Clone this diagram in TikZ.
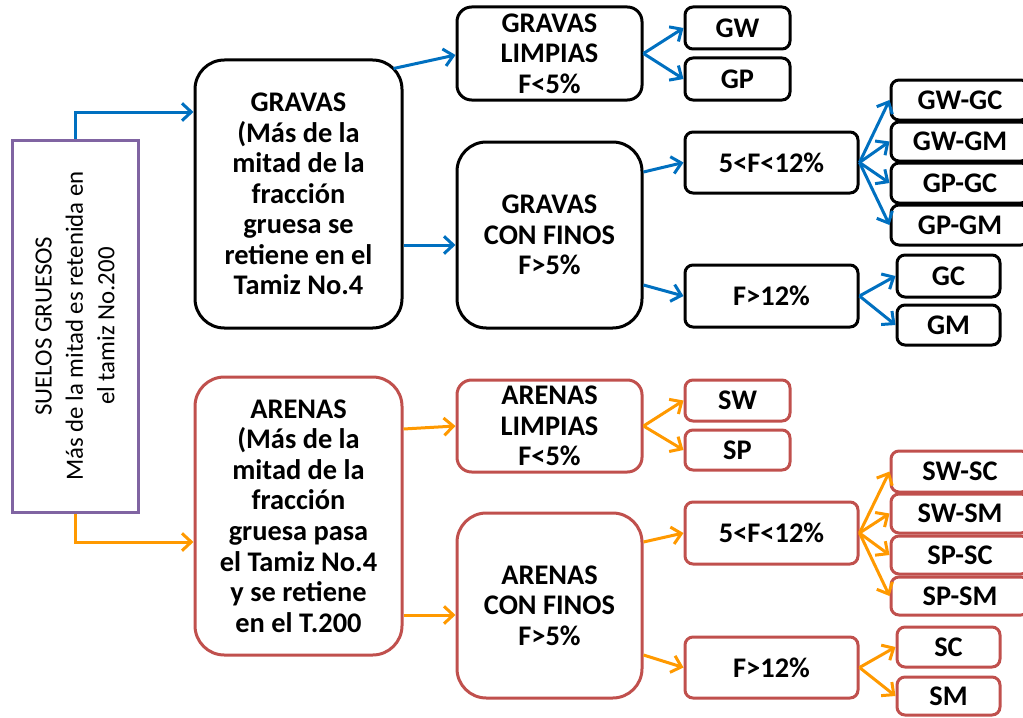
\documentclass[tikz,border=0pt]{standalone}
\usepackage{fontspec}
\setmainfont{Carlito}
\usetikzlibrary{arrows.meta}
\definecolor{cblue}{RGB}{0,112,192}
\definecolor{corange}{RGB}{255,153,0}
\definecolor{cred}{RGB}{192,80,77}
\definecolor{cpurple}{RGB}{128,100,162}
\begin{document}
\begin{tikzpicture}[x=0.75pt,y=-0.75pt,
  base/.style={draw, line width=2.25pt, inner sep=0pt, align=center,
    font=\fontsize{21.3}{22.9}\selectfont\bfseries},
  span/.style args={#1/#2/#3/#4}{minimum width={(#3-#1)*0.75pt}, minimum height={(#4-#2)*0.75pt},
    at={({(#1+#3)/2},{(#2+#4)/2})}},
  gbox/.style={base, draw=black},
  rbox/.style={base, draw=cred},
  bigr/.style={rounded corners=22pt},
  midr/.style={rounded corners=11pt},
  smr/.style={rounded corners=6pt},
  barrow/.style={draw=cblue, line width=2.25pt, -{Straight Barb[length=7pt,width=13pt]}},
  oarrow/.style={draw=corange, line width=2.25pt, -{Straight Barb[length=7pt,width=13pt]}}
]
\useasboundingbox (0,0) rectangle (1023,717);
\clip (0,0) rectangle (1023,717);

% left box
\node[draw=cpurple, line width=2.25pt, inner sep=0pt, span=12/140/138/512] (S) {};
\node[rotate=90, align=center, font=\fontsize{18.6}{23.5}\selectfont] (St) at (S.center)
  {SUELOS GRUESOS\\Más de la mitad es retenida en\\el tamiz No.200};

% gravas
\node[gbox, bigr, span=195/60/402/328] (G) {GRAVAS\\(Más de la\\mitad de la\\fracción\\gruesa se\\retiene en el\\Tamiz No.4};
\node[gbox, midr, span=457/7/642/100] (GL) {GRAVAS\\LIMPIAS\\F<5\%};
\node[gbox, bigr, span=457/142/642/328] (GCF) {GRAVAS\\CON FINOS\\F>5\%};
\node[gbox, smr, span=685/7/790/49] (GW) {GW};
\node[gbox, smr, span=685/58/790/100] (GP) {GP};
\node[gbox, smr, span=685/132/858/193] (G5) {5<F<12\%};
\node[gbox, smr, span=685/265/858/327] (G12) {F>12\%};
\node[gbox, smr, span=891/80/1029/120] (GWGC) {GW-GC};
\node[gbox, smr, span=891/122/1029/161] (GWGM) {GW-GM};
\node[gbox, smr, span=891/163/1029/203] (GPGC) {GP-GC};
\node[gbox, smr, span=891/205/1029/245] (GPGM) {GP-GM};
\node[gbox, smr, span=897/255/1000/297] (GC) {GC};
\node[gbox, smr, span=897/305/1000/345] (GM) {GM};

% arenas
\node[rbox, bigr, span=195/377/402/655] (A) {ARENAS\\(Más de la\\mitad de la\\fracción\\gruesa pasa\\el Tamiz No.4\\y se retiene\\en el T.200};
\node[rbox, midr, span=457/380/642/472] (AL) {ARENAS\\LIMPIAS\\F<5\%};
\node[rbox, bigr, span=457/513/642/698] (ACF) {ARENAS\\CON FINOS\\F>5\%};
\node[rbox, smr, span=685/380/790/421] (SW) {SW};
\node[rbox, smr, span=685/430/790/470] (SP) {SP};
\node[rbox, smr, span=685/502/858/564] (A5) {5<F<12\%};
\node[rbox, smr, span=685/637/858/698] (A12) {F>12\%};
\node[rbox, smr, span=891/451/1029/492] (SWSC) {SW-SC};
\node[rbox, smr, span=891/494/1029/533] (SWSM) {SW-SM};
\node[rbox, smr, span=891/536/1029/574] (SPSC) {SP-SC};
\node[rbox, smr, span=891/577/1029/615] (SPSM) {SP-SM};
\node[rbox, smr, span=897/627/1000/667] (SC) {SC};
\node[rbox, smr, span=897/677/1000/715] (SM) {SM};

% blue arrows
\draw[barrow] (S.north) |- ([shift={(0,-82)}]G.west);
\draw[barrow] ([shift={(-10,10)}]G.north east) -- ([shift={(0,1.5)}]GL.west);
\draw[barrow] ([shift={(0,51)}]G.east) -- ([shift={(0,10)}]GCF.west);
\draw[barrow] (GL.east) -- (GW.west);
\draw[barrow] (GL.east) -- (GP.west);
\draw[barrow] ([shift={(0,-63)}]GCF.east) -- (G5.west);
\draw[barrow] ([shift={(0,50)}]GCF.east) -- (G12.west);
\draw[barrow] (G5.east) -- (GWGC.west);
\draw[barrow] (G5.east) -- (GWGM.west);
\draw[barrow] (G5.east) -- (GPGC.west);
\draw[barrow] (G5.east) -- (GPGM.west);
\draw[barrow] (G12.east) -- (GC.west);
\draw[barrow] (G12.east) -- (GM.west);

% orange arrows
\draw[oarrow] (S.south) |- ([shift={(0,26)}]A.west);
\draw[oarrow] ([shift={(0,-87)}]A.east) -- (AL.west);
\draw[oarrow] ([shift={(0,99)}]A.east) -- ([shift={(0,9.5)}]ACF.west);
\draw[oarrow] (AL.east) -- (SW.west);
\draw[oarrow] (AL.east) -- (SP.west);
\draw[oarrow] ([shift={(0,-63.5)}]ACF.east) -- (A5.west);
\draw[oarrow] ([shift={(0,49.5)}]ACF.east) -- (A12.west);
\draw[oarrow] (A5.east) -- (SWSC.west);
\draw[oarrow] (A5.east) -- (SWSM.west);
\draw[oarrow] (A5.east) -- (SPSC.west);
\draw[oarrow] (A5.east) -- (SPSM.west);
\draw[oarrow] (A12.east) -- (SC.west);
\draw[oarrow] (A12.east) -- (SM.west);
\end{tikzpicture}
\end{document}
